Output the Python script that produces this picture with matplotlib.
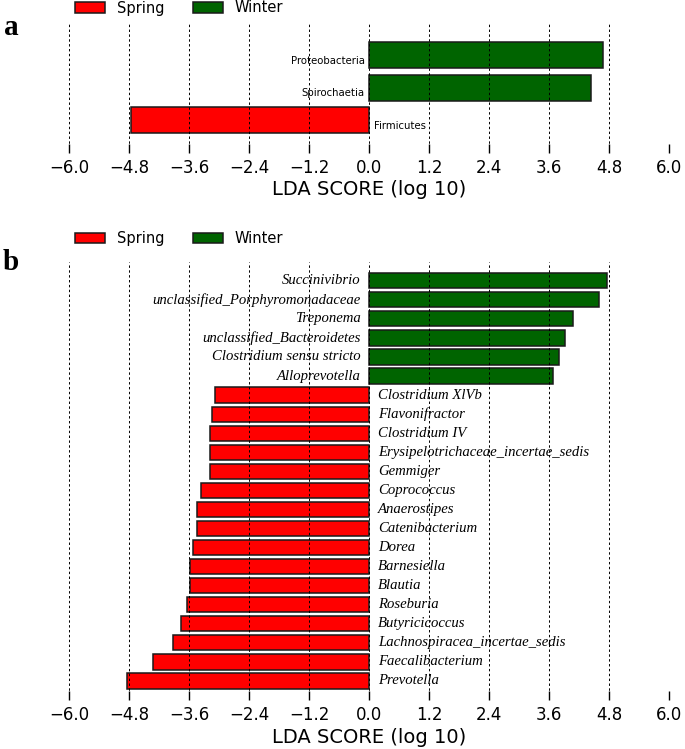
import matplotlib
matplotlib.use("Agg")
import matplotlib.pyplot as plt
from matplotlib.patches import Patch

# Panel a data (bottom to top)
a_taxa = ["Firmicutes", "Spirochaetia", "Proteobacteria"]
a_scores = [-4.77, 4.43, 4.67]
a_groups = ["Spring", "Winter", "Winter"]

# Panel b data (bottom to top)
b_taxa = ["Prevotella", "Faecalibacterium", "Lachnospiracea_incertae_sedis",
          "Butyricicoccus", "Roseburia", "Blautia", "Barnesiella", "Dorea",
          "Catenibacterium", "Anaerostipes", "Coprococcus", "Gemmiger",
          "Erysipelotrichaceae_incertae_sedis", "Clostridium IV", "Flavonifractor",
          "Clostridium XlVb", "Alloprevotella", "Clostridium sensu stricto",
          "unclassified_Bacteroidetes", "Treponema",
          "unclassified_Porphyromonadaceae", "Succinivibrio"]
b_scores = [-4.84, -4.32, -3.92, -3.77, -3.65, -3.58, -3.58, -3.53,
            -3.45, -3.44, -3.36, -3.19, -3.19, -3.19, -3.14, -3.09,
            3.68, 3.80, 3.91, 4.07, 4.60, 4.76]
b_groups = ["Spring"] * 16 + ["Winter"] * 6

ticks = [-6.0, -4.8, -3.6, -2.4, -1.2, 0.0, 1.2, 2.4, 3.6, 4.8, 6.0]
colors = {"Spring": "#FF0000", "Winter": "#006400"}
group_order = ["Spring", "Winter"]

W, H = 685, 749
fig = plt.figure(figsize=(W / 100, H / 100), dpi=100)

SANS = dict(family="DejaVu Sans")
EDGE = "#1a1a1a"


def draw(ax, taxa, scores, groups, label_font, label_size, gap, dy):
    ys = list(range(len(taxa)))
    for y, t, s, g in zip(ys, taxa, scores, groups):
        ax.barh(y, s, height=0.8, color=colors[g], edgecolor=EDGE,
                linewidth=1.1, zorder=1)
        if s > 0:
            ax.text(-gap, y - dy, t, ha="right", va="center",
                    fontsize=label_size, zorder=4, **label_font)
        else:
            ax.text(gap, y - dy, t, ha="left", va="center",
                    fontsize=label_size, zorder=4, **label_font)
    ax.set_xlim(-6.0, 6.0)
    ax.set_ylim(-1, len(taxa))
    ax.set_xticks(ticks)
    ax.set_xticklabels([("%.1f" % t).replace("-", "\u2212") for t in ticks],
                       fontsize=12, **SANS)
    ax.set_yticks([])
    for sp in ax.spines.values():
        sp.set_visible(False)
    ax.tick_params(axis="x", direction="in", length=6.3, width=1, pad=4.5)
    ax.set_axisbelow(False)
    ax.grid(axis="x", linestyle=(0, (2.5, 2.5)), color="black", linewidth=0.7,
            zorder=3)
    ax.set_xlabel("LDA SCORE (log 10)", fontsize=14, labelpad=2.5, **SANS)
    handles = [Patch(facecolor=colors[g], edgecolor=EDGE, linewidth=1.1,
                     label=g) for g in group_order]
    return handles


x0 = 69.3
x1 = 669.3
left = x0 / W
width = (x1 - x0) / W

legend_kw = dict(loc="center left", ncol=2, frameon=False,
                 prop=dict(size=10.5, **SANS), handlelength=2.05,
                 handleheight=0.75, columnspacing=1.97, handletextpad=0.82,
                 borderaxespad=0.0, borderpad=0.0)

# Panel a
a_top, a_bot = 22.7, 152.7
ax_a = fig.add_axes([left, 1 - a_bot / H, width, (a_bot - a_top) / H])
ha = draw(ax_a, a_taxa, a_scores, a_groups, dict(family="DejaVu Sans"), 7.3,
          0.09, 0.17)
fig.legend(handles=ha, bbox_to_anchor=(75 / W, 1 - 8 / H), **legend_kw)

# Panel b
b_top, b_bot = 261.7, 700.0
ax_b = fig.add_axes([left, 1 - b_bot / H, width, (b_bot - b_top) / H])
hb = draw(ax_b, b_taxa, b_scores, b_groups, dict(family="Liberation Serif",
          style="italic"), 10.6, 0.17, 0.0)
fig.legend(handles=hb, bbox_to_anchor=(75 / W, 1 - 238.7 / H), **legend_kw)

fig.text(4 / W, 1 - 35 / H, "a", fontsize=21, fontweight="bold",
         family="Liberation Serif")
fig.text(3 / W, 1 - 270 / H, "b", fontsize=21, fontweight="bold",
         family="Liberation Serif")

fig.savefig("out.png", dpi=100)
